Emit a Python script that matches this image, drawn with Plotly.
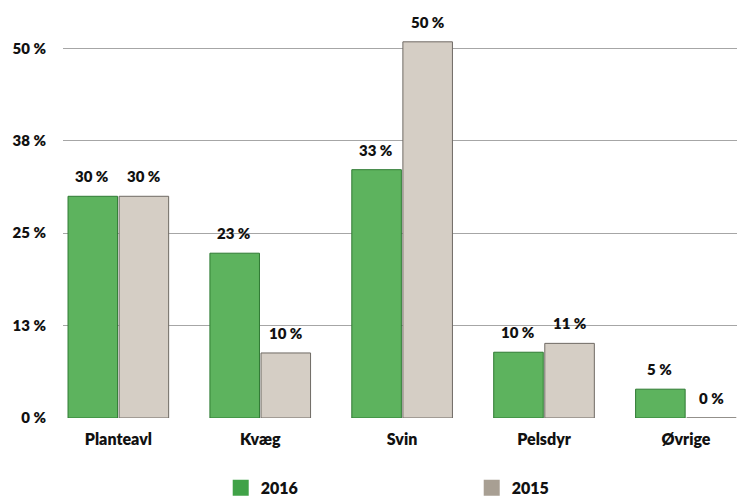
import plotly.graph_objects as go

categories = ["Planteavl", "Kvæg", "Svin", "Pelsdyr", "Øvrige"]
values_2016 = [30.0, 22.3, 33.6, 8.9, 3.9]
values_2015 = [30.0, 8.8, 50.9, 10.1, 0.0]
labels_2016 = ["30 %", "23 %", "33 %", "10 %", "5 %"]
labels_2015 = ["30 %", "10 %", "50 %", "11 %", "0 %"]
tick_vals = [0, 12.5, 25, 37.5, 50]
tick_text = ["0 %", "13 %", "25 %", "38 %", "50 %"]

FONT = "Lato"
GREEN_BAR = "#5DB35E"
GRAY_BAR = "#D5CEC5"
GREEN_LEG = "#40A247"
GRAY_LEG = "#A89F93"
TXT = dict(family=FONT, color="#111111", weight=800)

fig = go.Figure()
fig.add_trace(go.Bar(x=categories, y=values_2016, name="2016", showlegend=False,
                     marker=dict(color=GREEN_BAR, line=dict(color="#2F7A33", width=1))))
fig.add_trace(go.Bar(x=categories, y=values_2015, name="2015", showlegend=False,
                     marker=dict(color=GRAY_BAR, line=dict(color="#6F6A64", width=1))))
# legend-only entries
fig.add_trace(go.Scatter(x=[None], y=[None], mode="markers", name="2016",
                         marker=dict(symbol="square", size=16, color=GREEN_LEG)))
fig.add_trace(go.Scatter(x=[None], y=[None], mode="markers", name="2015",
                         marker=dict(symbol="square", size=16, color=GRAY_LEG)))

anns = []
for c, v, t in zip(categories, values_2016, labels_2016):
    anns.append(dict(x=c, y=v, xref="x", yref="y", text=t, showarrow=False,
                     xshift=-26, yshift=20, font=dict(size=15, **TXT)))
for c, v, t in zip(categories, values_2015, labels_2015):
    anns.append(dict(x=c, y=v, xref="x", yref="y", text=t, showarrow=False,
                     xshift=26, yshift=20, font=dict(size=15, **TXT)))

fig.update_layout(
    width=737, height=496,
    margin=dict(l=63, r=0, t=30, b=78, autoexpand=False),
    paper_bgcolor="white", plot_bgcolor="white",
    barmode="group", bargap=0.28, bargroupgap=0.03,
    font=dict(size=15, **TXT),
    annotations=anns,
    showlegend=True,
    legend=dict(orientation="h", x=0.234, xanchor="left", y=-0.18, yanchor="middle",
                entrywidth=206, entrywidthmode="pixels", itemsizing="trace",
                font=dict(size=16, **TXT),
                bgcolor="rgba(0,0,0,0)"),
    xaxis=dict(type="category", range=[-0.39, 4.36], showgrid=False, zeroline=False,
               showline=False, ticks="", ticklabelstandoff=10,
               tickfont=dict(size=16, **TXT)),
    yaxis=dict(range=[0, 52.5], tickvals=tick_vals, ticktext=tick_text,
               showgrid=True, gridcolor="#A6A6A6", gridwidth=1, zeroline=False,
               showline=False, ticks="", ticklabelstandoff=16,
               tickfont=dict(size=15, **TXT)),
)

fig.write_html("out.html")
